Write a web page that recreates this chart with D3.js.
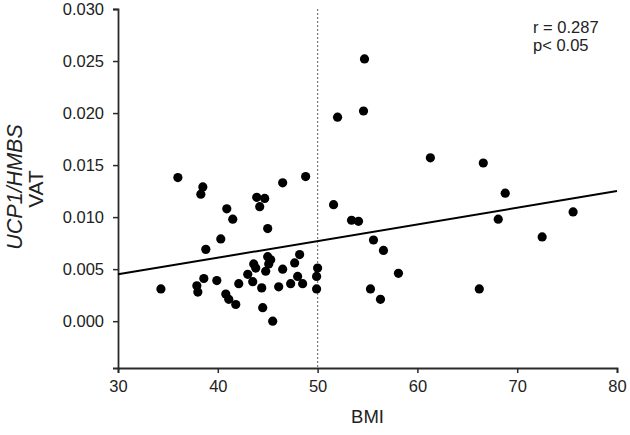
<!DOCTYPE html>
<html>
<head>
<meta charset="utf-8">
<script src="https://cdn.jsdelivr.net/npm/d3@7"></script>
<style>
  body { margin: 0; background: #fff; }
  text { font-family: Arial, "Liberation Sans", sans-serif; fill: #222; }
</style>
</head>
<body>
<div id="scatter"></div>
<script>
// BMI values
var bmi = [36.0, 38.5, 38.3, 40.9, 41.5, 43.9, 44.7, 44.2, 46.5, 48.8,
    45.0, 40.3, 38.8, 34.3, 37.9, 38.0, 38.6, 39.9, 40.8, 41.1,
    41.8, 42.1, 43.0, 43.5, 43.6, 43.8, 44.4, 44.5, 45.5, 44.8,
    45.0, 45.3, 45.1, 46.5, 46.1, 47.3, 47.7, 48.2, 48.0, 48.5,
    50.0, 49.9, 49.9, 52.0, 54.6, 51.6, 53.4, 54.1, 54.7, 61.3,
    66.6, 68.8, 75.6, 68.1, 55.6, 56.6, 72.5, 58.1, 55.3, 56.3, 66.2];
// UCP1/HMBS in VAT
var ucp1 = [0.0138, 0.0129, 0.0122, 0.0108, 0.0098, 0.0119, 0.0118, 0.0110, 0.0133, 0.0139,
    0.0089, 0.0079, 0.0069, 0.0031, 0.0034, 0.0028, 0.0041, 0.0039, 0.0026, 0.0021,
    0.0016, 0.0036, 0.0045, 0.0038, 0.0055, 0.0051, 0.0032, 0.0013, 0.0000, 0.0048,
    0.0062, 0.0059, 0.0055, 0.0050, 0.0033, 0.0036, 0.0056, 0.0064, 0.0043, 0.0036,
    0.0051, 0.0043, 0.0031, 0.0196, 0.0202, 0.0112, 0.0097, 0.0096, 0.0252, 0.0157,
    0.0152, 0.0123, 0.0105, 0.0098, 0.0078, 0.0068, 0.0081, 0.0046, 0.0031, 0.0021, 0.0031];

var xTicks = [30, 40, 50, 60, 70, 80];
var yTicks = [0, 0.005, 0.010, 0.015, 0.020, 0.025, 0.030];

// fitted line end points
var fitX = [30, 80];
var fitY = [0.0045, 0.0125];
var cutoff = 50;
var stats = ["r = 0.287", "p< 0.05"];

var svgWidth = 630;
var svgHeight = 435;
var margin = { top: 9, right: 13, bottom: 67, left: 118 };
var width = svgWidth - margin.left - margin.right;
var height = svgHeight - margin.top - margin.bottom;

var svg = d3.select("#scatter")
    .append("svg")
    .attr("width", svgWidth)
    .attr("height", svgHeight);

var chartGroup = svg.append("g")
    .attr("transform", `translate(${margin.left}, ${margin.top})`);

var xScale = d3.scaleLinear().domain([30, 80]).range([0, width]);
var yScale = d3.scaleLinear().domain([-0.0045, 0.030]).range([height, 0]);

var bottomAxis = d3.axisBottom(xScale).tickValues(xTicks).tickSize(5).tickPadding(7);
var leftAxis = d3.axisLeft(yScale).tickValues(yTicks).tickSize(5).tickPadding(9)
    .tickFormat(d3.format(".3f"));

var xAxis = chartGroup.append("g")
    .attr("transform", `translate(0, ${height})`)
    .call(bottomAxis);
var yAxis = chartGroup.append("g")
    .call(leftAxis);

[xAxis, yAxis].forEach(function (ax) {
    ax.select(".domain").attr("stroke", "#2a2a2a").attr("stroke-width", 1.8);
    ax.selectAll(".tick line").attr("stroke", "#2a2a2a").attr("stroke-width", 1.5);
    ax.selectAll(".tick text").attr("font-size", "16.5px").attr("fill", "#222")
        .attr("font-family", "Arial, 'Liberation Sans', sans-serif");
});

// dotted cut-off at BMI 50
chartGroup.append("line")
    .attr("x1", xScale(cutoff))
    .attr("x2", xScale(cutoff))
    .attr("y1", yScale(0.030))
    .attr("y2", height)
    .attr("stroke", "#777")
    .attr("stroke-width", 1.2)
    .attr("stroke-dasharray", "2,2");

// regression line
chartGroup.append("line")
    .attr("x1", xScale(fitX[0]))
    .attr("y1", yScale(fitY[0]))
    .attr("x2", xScale(fitX[1]))
    .attr("y2", yScale(fitY[1]))
    .attr("stroke", "#000")
    .attr("stroke-width", 2);

chartGroup.selectAll("circle")
    .data(bmi)
    .enter()
    .append("circle")
    .attr("cx", d => xScale(d))
    .attr("cy", (d, i) => yScale(ucp1[i]))
    .attr("r", 4.6)
    .attr("fill", "#000");

// axis titles
svg.append("text")
    .attr("x", margin.left + width / 2)
    .attr("y", 423)
    .attr("text-anchor", "middle")
    .attr("font-size", "18.5px")
    .text("BMI");

svg.append("text")
    .attr("transform", "translate(22, 187) rotate(-90)")
    .attr("text-anchor", "middle")
    .attr("font-size", "21.5px")
    .attr("font-style", "italic")
    .text("UCP1/HMBS");
svg.append("text")
    .attr("transform", "translate(43, 189) rotate(-90)")
    .attr("text-anchor", "middle")
    .attr("font-size", "21px")
    .text("VAT");

svg.selectAll(".stat")
    .data(stats)
    .enter()
    .append("text")
    .attr("class", "stat")
    .attr("x", 533)
    .attr("y", (d, i) => 33 + i * 18)
    .attr("font-size", "16.5px")
    .text(d => d);
</script>
</body>
</html>
